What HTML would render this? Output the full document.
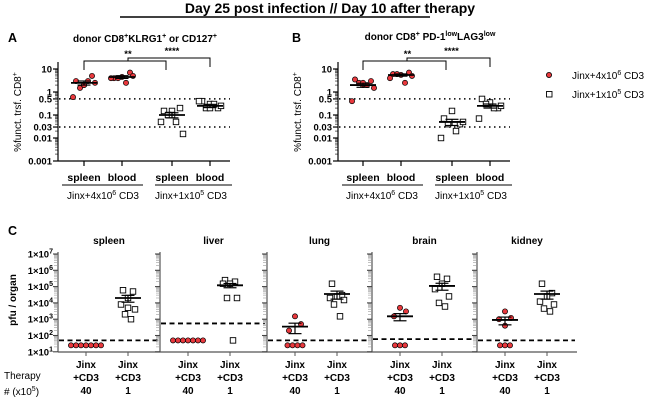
<!DOCTYPE html>
<html><head><meta charset="utf-8"><style>
body{margin:0;background:#fff}
svg{display:block;font-family:"Liberation Sans",Arial,sans-serif}
</style></head><body>
<svg id="fig" width="651" height="400" viewBox="0 0 651 400">
<text x="330" y="13" text-anchor="middle" font-size="14" font-weight="bold">Day 25 post infection //  Day 10 after therapy</text>
<line x1="120" y1="17" x2="430" y2="17" stroke="#000" stroke-width="1.5"/>
<text x="8" y="42" font-size="12.5" font-weight="bold">A</text>
<text x="292" y="42" font-size="12.5" font-weight="bold">B</text>
<text x="8" y="235" font-size="12.5" font-weight="bold">C</text>
<text x="145" y="42" text-anchor="middle" font-size="10" font-weight="bold">donor CD8<tspan dy="-4" font-size="7">+</tspan><tspan dy="4">KLRG1</tspan><tspan dy="-4" font-size="7">+</tspan><tspan dy="4"> or CD127</tspan><tspan dy="-4" font-size="7">+</tspan></text>
<text x="430" y="40" text-anchor="middle" font-size="10" font-weight="bold">donor CD8<tspan dy="-4" font-size="7">+</tspan><tspan dy="4"> PD-1</tspan><tspan dy="-4" font-size="7">low</tspan><tspan dy="4">LAG3</tspan><tspan dy="-4" font-size="7">low</tspan></text>
<g>
<circle cx="549" cy="75" r="2.6" fill="#e8383d" stroke="#000" stroke-width="0.8"/>
<text x="572" y="79" font-size="10">Jinx+4x10<tspan dy="-4" font-size="7">6</tspan><tspan dy="4"> CD3</tspan></text>
<rect x="546.5" y="91.5" width="5.5" height="5.5" fill="#fff" stroke="#000" stroke-width="0.9"/>
<text x="572" y="98" font-size="10">Jinx+1x10<tspan dy="-4" font-size="7">5</tspan><tspan dy="4"> CD3</tspan></text>
</g>
<text x="4" y="379" font-size="10">Therapy</text>
<text x="4" y="395" font-size="10"># (x10<tspan dy="-4" font-size="7">5</tspan><tspan dy="4">)</tspan></text>
</svg>
<script>
// Panel A data (% functional transferred CD8+)
const aSpleenHigh=[3,2,5,1.5,3,0.6,2.5,2];
const aBloodHigh=[4,4.5,7,4,2.5,4,5];
const aSpleenLow=[0.15,0.15,0.2,0.1,0.05,0.05,0.015,0.1];
const aBloodLow=[0.4,0.3,0.2,0.2,0.3,0.4,0.25,0.2];
const aMeans=[2.5,4.5,0.1,0.25];
const aSem=[0.5,0.6,0.025,0.04];
// Panel B data
const bSpleenHigh=[3.5,2,3,2.5,2,0.4,1.5,2.5];
const bBloodHigh=[6,5.5,7,6,2.5,4,5];
const bSpleenLow=[0.07,0.15,0.04,0.04,0.02,0.01,0.05];
const bBloodLow=[0.5,0.35,0.2,0.3,0.2,0.07,0.25];
const bMeans=[2,5.5,0.05,0.25];
const bSem=[0.4,0.6,0.015,0.05];
const abTicks=[10,1,0.5,0.1,0.03,0.01,0.001];
const abTickLabels=["10","1","0.5","0.1","0.03","0.01","0.001"];
const abCategories=["spleen","blood","spleen","blood"];
const abRefLines=[0.5,0.03];
// Panel C data (pfu / organ)
const organs=["spleen","liver","lung","brain","kidney"];
const cHigh=[[25,25,25,25,25,25,25],[50,50,50,50,50,50,50],[1500,500,200,25,25,25,25],[5000,3000,1500,25,25,25],[3000,1200,1000,400,25,25,25]];
const cLow=[[60000,50000,20000,8000,4000,2000,1000,5000],[250000,200000,150000,150000,20000,20000,50],[150000,30000,25000,20000,15000,8000,1500],[400000,300000,150000,70000,25000,10000,6000],[150000,40000,25000,12000,8000,4500,3000]];
const cHighMean=[null,null,350,1500,900];
const cHighSem=[null,null,220,700,450];
const cLowMean=[20000,120000,35000,110000,35000];
const cLowSem=[9000,35000,18000,50000,18000];
const cLod=[50,550,50,60,50];
const cTickExp=[7,6,5,4,3,2,1];

const svg=document.getElementById('fig');
const NS='http://www.w3.org/2000/svg';
function mk(tag,attrs,name,parent){const e=document.createElementNS(NS,tag);for(const k in attrs)e.setAttribute(k,attrs[k]);


(parent||svg).appendChild(e);return e;}
const RED='#e8383d';
const offs=[-8,0,8,-4,4,-11,11,0];
function marker(x,y,high,name){
 if(high)return mk('circle',{cx:x,cy:y,r:2.6,fill:RED,stroke:'#000','stroke-width':0.7},name);
 return mk('rect',{x:x-2.75,y:y-2.75,width:5.5,height:5.5,fill:'#fff',stroke:'#000','stroke-width':0.9},name);
}
function meanBar(x,ys,yt,yb,w,name){
 mk('line',{x1:x-w,x2:x+w,y1:ys,y2:ys,stroke:'#000','stroke-width':1.8},name+'-mean');
 mk('line',{x1:x,x2:x,y1:yt,y2:yb,stroke:'#000','stroke-width':1.2},name+'-sem');
 mk('line',{x1:x-w/2,x2:x+w/2,y1:yt,y2:yt,stroke:'#000','stroke-width':1.2},name+'-sem-top');
 mk('line',{x1:x-w/2,x2:x+w/2,y1:yb,y2:yb,stroke:'#000','stroke-width':1.2},name+'-sem-bottom');
}
function panelAB(px,cats,data,means,sems,tag){
 const ax=px, y10=69, dec=23, yb=161;
 const Y=v=>y10+(1-Math.log10(v))*dec;
 mk('line',{x1:ax,x2:ax,y1:62,y2:yb,stroke:'#000','stroke-width':1.2},tag+'-y-axis');
 mk('line',{x1:ax,x2:ax+172,y1:yb,y2:yb,stroke:'#000','stroke-width':1.2},tag+'-x-axis');
 for(let d=-3;d<1;d++)for(let m=2;m<10;m++){const y=Y(m*Math.pow(10,d));mk('line',{x1:ax-3,x2:ax,y1:y,y2:y,stroke:'#000','stroke-width':0.6},tag+'-minor-tick');}
 abTicks.forEach((t,i)=>{const y=Y(t);mk('line',{x1:ax-5,x2:ax,y1:y,y2:y,stroke:'#000','stroke-width':1.2},tag+'-major-tick');
  const tx=mk('text',{x:ax-6,y:y+3.5,'text-anchor':'end','font-size':9.5,'font-weight':'bold'},tag+'-y-tick-label');tx.textContent=abTickLabels[i];});
 abRefLines.forEach(v=>mk('line',{x1:ax+1,x2:ax+172,y1:Y(v),y2:Y(v),stroke:'#000','stroke-width':1.5,'stroke-dasharray':'1.5,3.5'},tag+'-threshold-line'));
 const lab=mk('text',{transform:`translate(${ax-37},${112}) rotate(-90)`,'text-anchor':'middle','font-size':10},tag+'-y-axis-title');
 lab.innerHTML='%funct. trsf. CD8<tspan dy="-4" font-size="7">+</tspan>';
 cats.forEach((cx,i)=>{
  mk('line',{x1:cx,x2:cx,y1:yb,y2:yb+5,stroke:'#000','stroke-width':1.2},tag+'-x-tick');
  const t=mk('text',{x:cx,y:181,'text-anchor':'middle','font-size':10.5,'font-weight':'bold'},tag+'-x-label');t.textContent=abCategories[i];
  data[i].forEach((v,j)=>marker(cx+offs[j%offs.length],Y(v),i<2,tag+'-point'));
  meanBar(cx,Y(means[i]),Y(means[i]+sems[i]),Y(means[i]-sems[i]),13,tag+'-group'+i);
 });
 mk('line',{x1:ax+4,x2:ax+85,y1:185,y2:185,stroke:'#000','stroke-width':1},tag+'-group-underline-high');
 mk('line',{x1:ax+97,x2:ax+174,y1:185,y2:185,stroke:'#000','stroke-width':1},tag+'-group-underline-low');
 const g1=mk('text',{x:(cats[0]+cats[1])/2,y:199,'text-anchor':'middle','font-size':10},tag+'-group-label-high');g1.innerHTML='Jinx+4x10<tspan dy="-4" font-size="7">6</tspan><tspan dy="4"> CD3</tspan>';
 const g2=mk('text',{x:(cats[2]+cats[3])/2,y:199,'text-anchor':'middle','font-size':10},tag+'-group-label-low');g2.innerHTML='Jinx+1x10<tspan dy="-4" font-size="7">5</tspan><tspan dy="4"> CD3</tspan>';
 mk('path',{d:`M${cats[0]} 70 V61 H${cats[2]-6} V70`,fill:'none',stroke:'#000','stroke-width':1},tag+'-bracket-spleen');
 mk('path',{d:`M${cats[1]+6} 61 V58 H${cats[3]} V67`,fill:'none',stroke:'#000','stroke-width':1},tag+'-bracket-blood');
 const s1=mk('text',{x:(cats[0]+cats[2])/2,y:57,'text-anchor':'middle','font-size':9.5,'font-weight':'bold'},tag+'-sig-spleen');s1.textContent='**';
 const s2=mk('text',{x:(cats[1]+cats[3])/2+6,y:54,'text-anchor':'middle','font-size':9.5,'font-weight':'bold'},tag+'-sig-blood');s2.textContent='****';
}
panelAB(58,[84,122,172,210],[aSpleenHigh,aBloodHigh,aSpleenLow,aBloodLow],aMeans,aSem,'panel-a');
panelAB(338,[363,401,452,490],[bSpleenHigh,bBloodHigh,bSpleenLow,bBloodLow],bMeans,bSem,'panel-b');

const cAxes=[58,160,267,372,477], cEnd=577;
const cTop=254, cDec=16.3, cBase=352;
const CY=v=>cTop+(7-Math.log10(v))*cDec;
const ylab=mk('text',{transform:'translate(16,300) rotate(-90)','text-anchor':'middle','font-size':10,'font-weight':'bold'},'panel-c-y-axis-title');ylab.textContent='pfu / organ';
cTickExp.forEach(e=>{const t=mk('text',{x:53,y:CY(Math.pow(10,e))+3.5,'text-anchor':'end','font-size':9.5,'font-weight':'bold'},'panel-c-y-tick-label');t.innerHTML='1×10<tspan dy="-4" font-size="7">'+e+'</tspan>';});
mk('line',{x1:58,x2:cEnd,y1:cBase,y2:cBase,stroke:'#555','stroke-width':1.2},'panel-c-x-axis');
organs.forEach((o,i)=>{
 const ax=cAxes[i], nx=i<4?cAxes[i+1]:cEnd;
 mk('line',{x1:ax,x2:ax,y1:cTop-2,y2:cBase,stroke:'#555','stroke-width':1.2},'panel-c-'+o+'-y-axis');
 for(let d=1;d<7;d++)for(let m=1;m<10;m++){const y=CY(m*Math.pow(10,d));const maj=m===1;mk('line',{x1:ax-(maj?5:4),x2:ax,y1:y,y2:y,stroke:maj?'#444':'#999','stroke-width':maj?1.1:0.6},'panel-c-tick');}
 mk('line',{x1:ax-5,x2:ax,y1:cTop,y2:cTop,stroke:'#444','stroke-width':1.1},'panel-c-tick');
 const t=mk('text',{x:(ax+nx)/2,y:244,'text-anchor':'middle','font-size':10,'font-weight':'bold'},'panel-c-'+o+'-title');t.textContent=o;
 mk('line',{x1:ax+1,x2:nx-2,y1:CY(cLod[i]),y2:CY(cLod[i]),stroke:'#000','stroke-width':1.8,'stroke-dasharray':'5,3.5'},'panel-c-'+o+'-detection-limit');
 const c1=ax+28, c2=ax+70;
 [c1,c2].forEach((cx,k)=>{
  mk('line',{x1:cx,x2:cx,y1:cBase,y2:cBase+4,stroke:'#555','stroke-width':1},'panel-c-x-tick');
  ['Jinx','+CD3',k?'1':'40'].forEach((s,r)=>{const tx=mk('text',{x:cx,y:368+r*13,'text-anchor':'middle','font-size':10,'font-weight':'bold'},'panel-c-x-label');tx.textContent=s;});
 });
 const hi=cHigh[i], lo=cLow[i];
 const below=hi.filter(v=>v<=cLod[i]).length;
 let bi=0, ai=0;
 hi.forEach(v=>{let x;if(v<=cLod[i]){x=c1+(bi-(below-1)/2)*5;bi++;}else{x=c1+[0,6,-6][ai%3];ai++;}marker(x,CY(v),true,'panel-c-'+o+'-point-high');});
 lo.forEach((v,j)=>marker(c2+[-5,5,0,-7,7,-3,3,0][j%8],CY(v),false,'panel-c-'+o+'-point-low'));
 if(cHighMean[i]!==null)meanBar(c1,CY(cHighMean[i]),CY(cHighMean[i]+cHighSem[i]),CY(cHighMean[i]-cHighSem[i]),13,'panel-c-'+o+'-high');
 meanBar(c2,CY(cLowMean[i]),CY(cLowMean[i]+cLowSem[i]),CY(cLowMean[i]-cLowSem[i]),13,'panel-c-'+o+'-low');
});
</script>
</body></html>
